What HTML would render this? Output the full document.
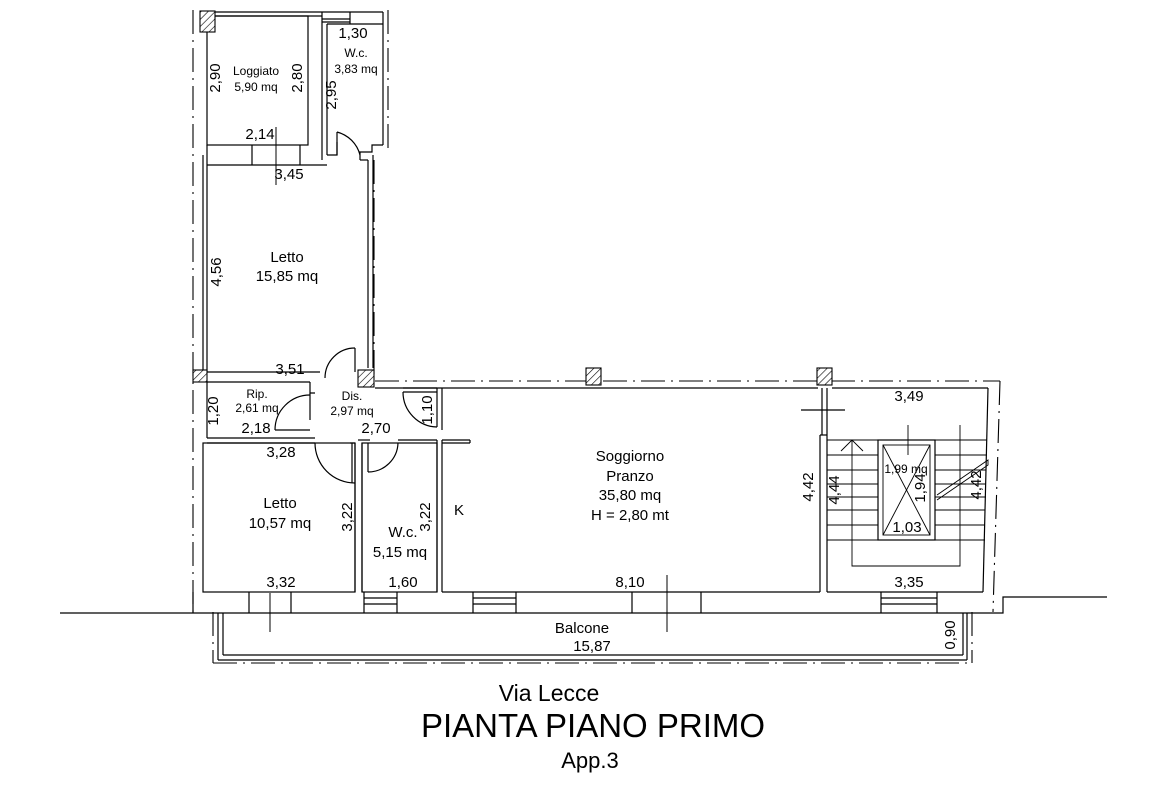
<!DOCTYPE html>
<html><head><meta charset="utf-8"><style>
html,body{margin:0;padding:0;background:#fff;}
svg{display:block;}
text{font-family:"Liberation Sans",sans-serif;fill:#000;}
</style></head><body>
<svg width="1170" height="785" viewBox="0 0 1170 785" xmlns="http://www.w3.org/2000/svg">
<defs>
<pattern id="h" width="5" height="5" patternUnits="userSpaceOnUse" patternTransform="rotate(45)">
<rect width="5" height="5" fill="#fff"/><line x1="0" y1="0" x2="0" y2="5" stroke="#000" stroke-width="1.2"/>
</pattern>
</defs>
<g fill="none" stroke="#000" stroke-width="1.2">
<g stroke-dasharray="24,6,2,6" stroke-width="1.1">
<line x1="193" y1="10" x2="193" y2="612"/>
<line x1="388" y1="10" x2="388" y2="150"/>
<line x1="374" y1="160" x2="374" y2="380"/>
<line x1="375" y1="381" x2="1000" y2="381"/>
<line x1="1000" y1="381" x2="993" y2="612"/>
<line x1="213" y1="612" x2="213" y2="663"/>
<line x1="213" y1="663" x2="972" y2="663"/>
<line x1="972" y1="612" x2="972" y2="663"/>
</g>
<line x1="200" y1="12" x2="383" y2="12"/>
<line x1="215" y1="16" x2="322" y2="16"/>
<rect x="207" y="16" width="101" height="129"/>
<line x1="322" y1="12" x2="322" y2="160"/>
<line x1="327" y1="24" x2="327" y2="155"/>
<line x1="327" y1="24" x2="383" y2="24"/>
<line x1="383" y1="12" x2="383" y2="145"/>
<line x1="322" y1="19" x2="350" y2="19"/><line x1="322" y1="22" x2="350" y2="22"/>
<line x1="350" y1="12" x2="350" y2="24"/>
<polyline points="383,145 372,145 372,152 360,152 360,160"/>
<polyline points="327,155 337,155 337,142"/>
<path d="M337 132 A32 32 0 0 1 360 155"/>
<line x1="337" y1="132" x2="337" y2="155"/>
<line x1="207" y1="145" x2="207" y2="372"/>
<line x1="203" y1="155" x2="203" y2="380"/>
<line x1="207" y1="165" x2="327" y2="165"/>
<line x1="252" y1="145" x2="252" y2="165"/>
<line x1="300" y1="145" x2="300" y2="165"/>
<line x1="360" y1="160" x2="368" y2="160"/>
<line x1="368" y1="160" x2="368" y2="368"/>
<line x1="373" y1="155" x2="373" y2="368"/>
<line x1="355" y1="348" x2="355" y2="372"/>
<path d="M355 348 A30 30 0 0 0 325 378"/>
<line x1="207" y1="372" x2="320" y2="372"/>
<line x1="207" y1="382" x2="310" y2="382"/>
<polyline points="310,382 310,393 315,393"/>
<line x1="310" y1="393" x2="310" y2="420"/>
<line x1="207" y1="382" x2="207" y2="438"/>
<line x1="275" y1="430" x2="310" y2="430"/>
<path d="M275 430 A35 35 0 0 1 310 395"/>
<line x1="207" y1="438" x2="315" y2="438"/>
<line x1="207" y1="443" x2="315" y2="443"/>
<path d="M315 443 A40 40 0 0 0 355 483"/>
<line x1="355" y1="443" x2="355" y2="592"/>
<line x1="350" y1="443" x2="355" y2="443"/>
<line x1="352" y1="443" x2="352" y2="483"/>
<line x1="358" y1="440" x2="370" y2="440"/>
<line x1="362" y1="443" x2="362" y2="592"/>
<line x1="368" y1="443" x2="368" y2="472"/>
<path d="M368 472 A30 30 0 0 0 398 443"/>
<line x1="398" y1="440" x2="437" y2="440"/>
<line x1="437" y1="440" x2="437" y2="592"/>
<line x1="442" y1="440" x2="442" y2="592"/>
<line x1="442" y1="440" x2="470" y2="440"/>
<line x1="442" y1="443" x2="470" y2="443"/>
<line x1="470" y1="440" x2="470" y2="443"/>
<line x1="403" y1="388" x2="437" y2="388"/>
<line x1="403" y1="392" x2="437" y2="392"/>
<path d="M403 392 A35 35 0 0 0 437 427"/>
<line x1="437" y1="388" x2="437" y2="427"/>
<line x1="442" y1="388" x2="442" y2="430"/>
<line x1="375" y1="388" x2="818" y2="388"/>
<rect x="203" y="443" width="152" height="149"/>
<rect x="362" y="443" width="75" height="149"/>
<line x1="442" y1="592" x2="820" y2="592"/>
<line x1="820" y1="435" x2="820" y2="592"/>
<line x1="827" y1="435" x2="827" y2="592"/>
<line x1="820" y1="435" x2="827" y2="435"/>
<line x1="822" y1="388" x2="822" y2="435"/>
<line x1="827" y1="388" x2="827" y2="435"/>
<line x1="801" y1="410" x2="845" y2="410"/>
<line x1="832" y1="388" x2="988" y2="388"/>
<line x1="988" y1="388" x2="983" y2="592"/>
<line x1="827" y1="592" x2="983" y2="592"/>
<line x1="60" y1="613" x2="990" y2="613"/>
<polyline points="990,613 1003,613 1003,597 1107,597"/>
<line x1="193" y1="592" x2="193" y2="613"/>
<line x1="249" y1="592" x2="249" y2="613"/>
<line x1="291" y1="592" x2="291" y2="613"/>
<line x1="364" y1="592" x2="364" y2="613"/>
<line x1="397" y1="592" x2="397" y2="613"/>
<line x1="364" y1="598" x2="397" y2="598"/><line x1="364" y1="604" x2="397" y2="604"/>
<line x1="473" y1="592" x2="473" y2="613"/>
<line x1="516" y1="592" x2="516" y2="613"/>
<line x1="473" y1="598" x2="516" y2="598"/><line x1="473" y1="604" x2="516" y2="604"/>
<line x1="632" y1="592" x2="632" y2="613"/>
<line x1="701" y1="592" x2="701" y2="613"/>
<line x1="881" y1="592" x2="881" y2="613"/>
<line x1="937" y1="592" x2="937" y2="613"/>
<line x1="881" y1="598" x2="937" y2="598"/><line x1="881" y1="604" x2="937" y2="604"/>
<line x1="218" y1="613" x2="218" y2="660"/>
<line x1="218" y1="660" x2="967" y2="660"/>
<line x1="223" y1="613" x2="223" y2="655"/>
<line x1="223" y1="655" x2="963" y2="655"/>
<line x1="967" y1="613" x2="967" y2="660"/>
<line x1="963" y1="613" x2="963" y2="655"/>
<line x1="276" y1="127" x2="276" y2="185" stroke-width="1"/>
<line x1="270" y1="593" x2="270" y2="632" stroke-width="1"/>
<line x1="667" y1="575" x2="667" y2="632" stroke-width="1"/>
<g stroke-width="0.9">
<rect x="878" y="440" width="57" height="100" stroke-width="1.2"/>
<rect x="883" y="445" width="47" height="90"/>
<line x1="883" y1="445" x2="930" y2="535"/><line x1="930" y1="445" x2="883" y2="535"/>
<line x1="827" y1="440" x2="878" y2="440"/><line x1="935" y1="440" x2="987" y2="440"/>
<line x1="827" y1="455" x2="878" y2="455"/><line x1="935" y1="455" x2="987" y2="455"/>
<line x1="827" y1="470" x2="878" y2="470"/><line x1="935" y1="470" x2="986" y2="470"/>
<line x1="827" y1="484" x2="878" y2="484"/><line x1="935" y1="484" x2="986" y2="484"/>
<line x1="827" y1="497" x2="878" y2="497"/><line x1="935" y1="497" x2="986" y2="497"/>
<line x1="827" y1="510" x2="878" y2="510"/><line x1="935" y1="510" x2="985" y2="510"/>
<line x1="827" y1="525" x2="878" y2="525"/><line x1="935" y1="525" x2="985" y2="525"/>
<line x1="827" y1="540" x2="985" y2="540"/>
<polyline points="852,440 852,566 960,566 960,425"/>
<polyline points="841,451 852,440 863,451"/>
<line x1="908" y1="425" x2="908" y2="455"/>
<polyline points="937,495 988,460 988,465 937,500"/>
</g>
</g>
<g stroke="#000" stroke-width="1.1" fill="url(#h)">
<rect x="200" y="11" width="15" height="21"/>
<rect x="358" y="370" width="16" height="17"/>
<rect x="586" y="368" width="15" height="17"/>
<rect x="817" y="368" width="15" height="17"/>
<rect x="193" y="370" width="14" height="12"/>
</g>
<g font-size="12" text-anchor="middle">
<text x="256" y="75">Loggiato</text>
<text x="256" y="91">5,90 mq</text>
<text x="356" y="57">W.c.</text>
<text x="356" y="73">3,83 mq</text>
<text x="257" y="398">Rip.</text>
<text x="257" y="412">2,61 mq</text>
<text x="352" y="400">Dis.</text>
<text x="352" y="415">2,97 mq</text>
<text x="906" y="473">1,99 mq</text>
</g>
<g font-size="15" text-anchor="middle">
<text x="353" y="38">1,30</text>
<text x="260" y="139">2,14</text>
<text x="289" y="179">3,45</text>
<text x="287" y="262">Letto</text>
<text x="287" y="281">15,85 mq</text>
<text x="290" y="374">3,51</text>
<text x="256" y="433">2,18</text>
<text x="376" y="433">2,70</text>
<text x="281" y="457">3,28</text>
<text x="280" y="508">Letto</text>
<text x="280" y="528">10,57 mq</text>
<text x="403" y="537">W.c.</text>
<text x="400" y="557">5,15 mq</text>
<text x="281" y="587">3,32</text>
<text x="403" y="587">1,60</text>
<text x="459" y="515">K</text>
<text x="630" y="461">Soggiorno</text>
<text x="630" y="481">Pranzo</text>
<text x="630" y="500">35,80 mq</text>
<text x="630" y="520">H = 2,80 mt</text>
<text x="630" y="587">8,10</text>
<text x="582" y="633">Balcone</text>
<text x="592" y="651">15,87</text>
<text x="909" y="401">3,49</text>
<text x="909" y="587">3,35</text>
<text x="907" y="532">1,03</text>
</g>
<g font-size="15" text-anchor="middle">
<text transform="translate(220,78) rotate(-90)">2,90</text>
<text transform="translate(302,78) rotate(-90)">2,80</text>
<text transform="translate(336,95) rotate(-90)">2,95</text>
<text transform="translate(221,272) rotate(-90)">4,56</text>
<text transform="translate(218,411) rotate(-90)">1,20</text>
<text transform="translate(432,410) rotate(-90)">1,10</text>
<text transform="translate(352,517) rotate(-90)">3,22</text>
<text transform="translate(430,517) rotate(-90)">3,22</text>
<text transform="translate(813,487) rotate(-90)">4,42</text>
<text transform="translate(839,490) rotate(-90)">4,44</text>
<text transform="translate(925,488) rotate(-90)">1,94</text>
<text transform="translate(981,485) rotate(-90)">4,42</text>
<text transform="translate(955,635) rotate(-90)">0,90</text>
</g>
<text x="549" y="701" font-size="23" text-anchor="middle">Via Lecce</text>
<text x="593" y="737" font-size="33" text-anchor="middle">PIANTA PIANO PRIMO</text>
<text x="590" y="768" font-size="22" text-anchor="middle">App.3</text>
</svg>
</body></html>
